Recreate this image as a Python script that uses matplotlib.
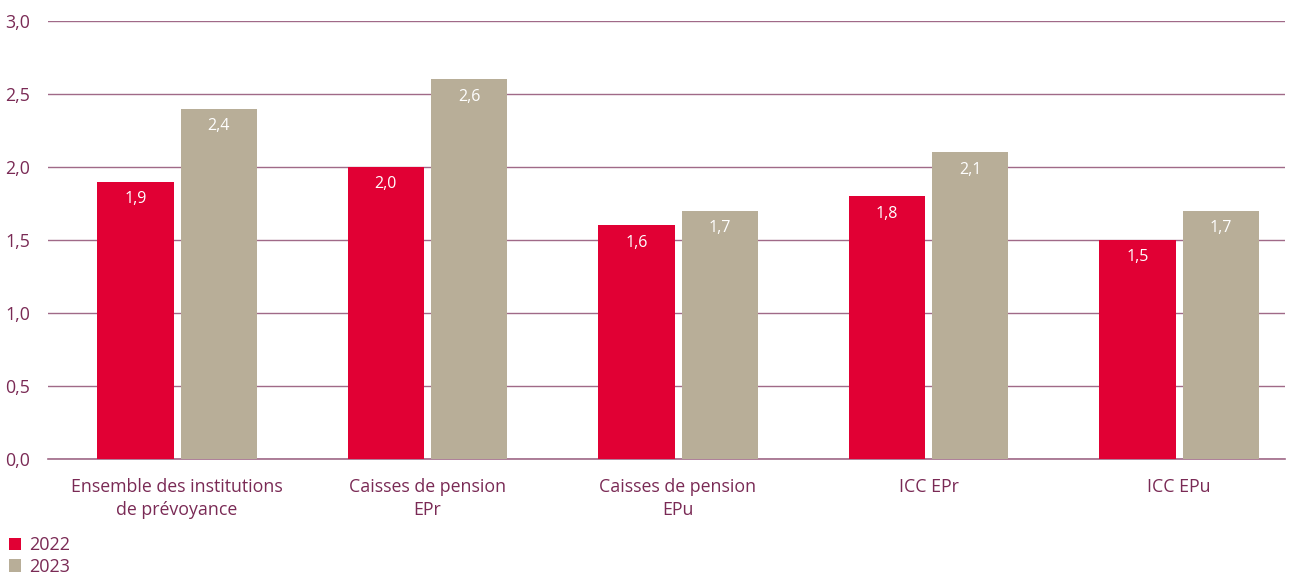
import numpy as np
import matplotlib.pyplot as plt

plt.rcParams['font.family'] = ['Open Sans', 'DejaVu Sans']

# données
categories = ["Ensemble des institutions\nde prévoyance", "Caisses de pension\nEPr",
              "Caisses de pension\nEPu", "ICC EPr", "ICC EPu"]
val_2022 = [1.9, 2.0, 1.6, 1.8, 1.5]
val_2023 = [2.4, 2.6, 1.7, 2.1, 1.7]
yticks = [0.0, 0.5, 1.0, 1.5, 2.0, 2.5, 3.0]

c_2022 = "#E10034"
c_2023 = "#B8AE98"
c_text = "#7A2A55"
c_grid = "#A06A88"

fig = plt.figure(figsize=(12.92, 5.77), dpi=100)
ax = fig.add_axes([48 / 1292, 118 / 577, 1237 / 1292, 438 / 577])

x = np.arange(len(categories))
w = 0.304
off = 0.166
b1 = ax.bar(x - off, val_2022, w, color=c_2022, label="2022", zorder=2)
b2 = ax.bar(x + off, val_2023, w, color=c_2023, label="2023", zorder=2)

for bars in (b1, b2):
    for b in bars:
        ax.text(b.get_x() + b.get_width() / 2, b.get_height() - 0.065,
                f"{b.get_height():.1f}".replace(".", ","),
                ha="center", va="top", color="white", fontsize=11.5, zorder=3)

ax.set_xlim(-0.515, 4.423)
ax.set_ylim(0, 3.0)
ax.set_yticks(yticks)
ax.set_yticklabels([f"{t:.1f}".replace(".", ",") for t in yticks])
ax.set_xticks(x)
ax.set_xticklabels(categories, linespacing=1.3, fontsize=13.2)
ax.tick_params(axis="both", length=0, colors=c_text, labelsize=12.8)
ax.tick_params(axis="x", pad=14)
for lab in ax.get_yticklabels():
    lab.set_horizontalalignment("left")
    lab.set_x(-48 / 1237 + 0.004)
ax.tick_params(axis="y", pad=0)

ax.grid(axis="y", color=c_grid, linewidth=1, zorder=1)
ax.set_axisbelow(True)
for s in ax.spines.values():
    s.set_visible(False)
ax.axhline(0, color=c_grid, linewidth=1.2, zorder=1, clip_on=False)

leg = fig.legend(handles=[b1, b2], loc="lower left", bbox_to_anchor=(-0.003, -0.02),
                 frameon=False, handlelength=0.7, handleheight=0.7,
                 handletextpad=0.45, labelspacing=0.2, fontsize=13, borderaxespad=0.3)
for t in leg.get_texts():
    t.set_color(c_text)

fig.savefig("out.png", dpi=100)
